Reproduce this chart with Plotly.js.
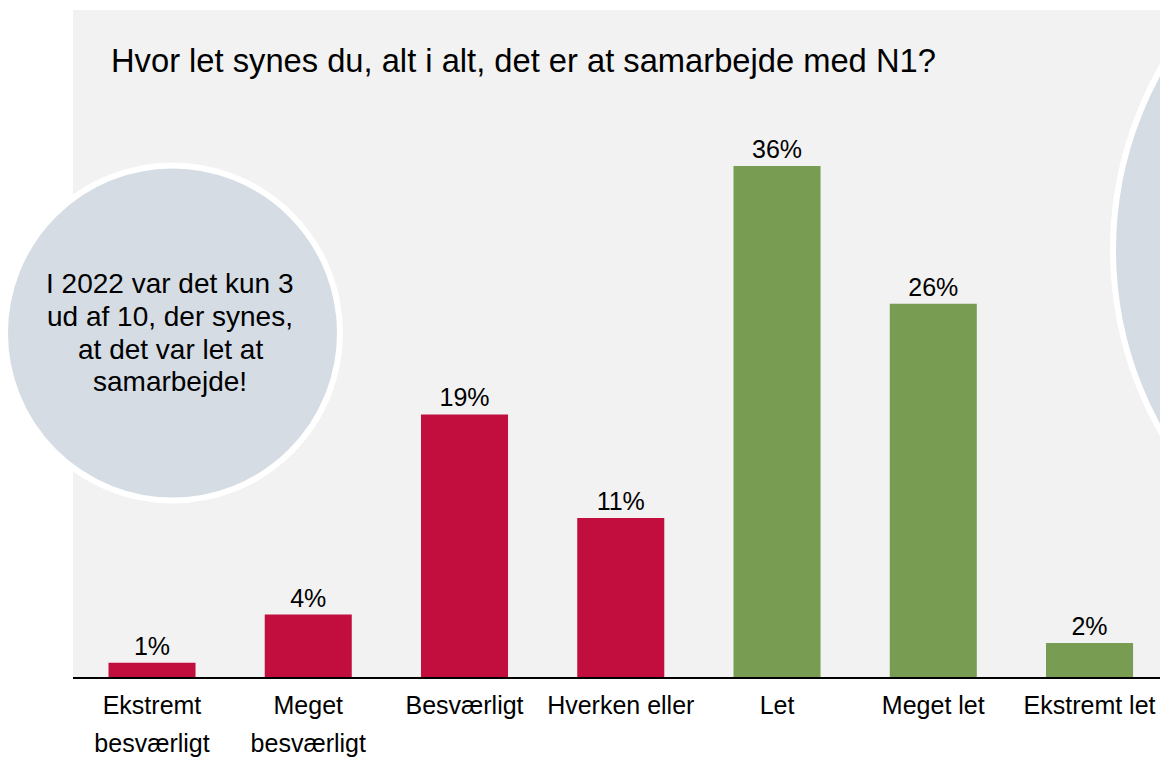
<!DOCTYPE html>
<html>
<head>
<meta charset="utf-8">
<script src="https://cdn.plot.ly/plotly-3.0.1.min.js"></script>
<style>
  html, body { margin: 0; padding: 0; background: #ffffff; }
  #chart { width: 1160px; height: 757px; }
</style>
</head>
<body>
<div id="chart"></div>
<script>
// ---- Data ----
const categories = ["Ekstremt besværligt", "Meget besværligt", "Besværligt", "Hverken eller", "Let", "Meget let", "Ekstremt let"];
const tickLabels = ["Ekstremt<br>besværligt", "Meget<br>besværligt", "Besværligt", "Hverken eller", "Let", "Meget let", "Ekstremt let"];
const values = [1.0, 4.4, 18.5, 11.2, 36.0, 26.3, 2.4];
const valueLabels = ["1%", "4%", "19%", "11%", "36%", "26%", "2%"];
const barColors = ["#C20E3E", "#C20E3E", "#C20E3E", "#C20E3E", "#779C52", "#779C52", "#779C52"];
const chartTitle = "Hvor let synes du, alt i alt, det er at samarbejde med N1?";
const calloutLines = ["I 2022 var det kun 3", "ud af 10, der synes,", "at det var let at", "samarbejde!"];

// ---- Layout helpers ----
const W = 1160, H = 757;
const M = { l: 73, r: 0, t: 10, b: 80 };
const PW = W - M.l - M.r, PH = H - M.t - M.b;
const px = x => (x - M.l) / PW;
const py = y => (H - M.b - y) / PH;

const FONT = "Liberation Sans, Arial, sans-serif";

const ticktext = tickLabels.map(t =>
  t.split("<br>").map(s => "<span style='font-size:25px'>" + s + "</span>").join("<br>")
);

const trace = {
  type: "bar",
  x: categories,
  y: values,
  text: valueLabels,
  texttemplate: "%{text}",
  textposition: "outside",
  constraintext: "none",
  cliponaxis: false,
  textfont: { family: FONT, size: 25, color: "#000000" },
  marker: { color: barColors, line: { width: 0 } },
  hoverinfo: "skip"
};

const shapes = [
  { type: "circle", xref: "paper", yref: "paper",
    x0: px(5), x1: px(340), y0: py(500.5), y1: py(165.5),
    fillcolor: "#D5DCE4", line: { color: "#ffffff", width: 6 }, layer: "above" },
  { type: "circle", xref: "paper", yref: "paper",
    x0: px(1113), x1: px(1849), y0: py(618), y1: py(-118),
    fillcolor: "#D5DCE4", line: { color: "#ffffff", width: 6 }, layer: "above" }
];

const lineY = [283, 316, 349, 382];
const annotations = calloutLines.map((t, i) => ({
  xref: "paper", yref: "paper",
  x: px(170), y: py(lineY[i]),
  xanchor: "center", yanchor: "middle",
  text: t, showarrow: false,
  font: { family: FONT, size: 28, color: "#000000" }
}));

const layout = {
  width: W, height: H,
  margin: M,
  paper_bgcolor: "#ffffff",
  plot_bgcolor: "#F2F2F2",
  showlegend: false,
  bargap: 0.443,
  title: {
    text: chartTitle,
    font: { family: FONT, size: 32.7, color: "#000000" },
    xref: "container", yref: "container",
    x: 111 / W, xanchor: "left",
    y: 1 - 61 / H, yanchor: "middle"
  },
  xaxis: {
    type: "category",
    range: [-0.5056, 6.451],
    tickmode: "array",
    tickvals: categories,
    ticktext: ticktext,
    tickfont: { family: FONT, size: 29.2, color: "#000000" },
    ticks: "",
    showline: true, linecolor: "#000000", linewidth: 2,
    showgrid: false, zeroline: false,
    fixedrange: true
  },
  yaxis: {
    range: [0, 47],
    visible: false,
    showgrid: false, zeroline: false, fixedrange: true
  },
  shapes: shapes,
  annotations: annotations
};

Plotly.newPlot("chart", [trace], layout, { displayModeBar: false, staticPlot: true });
</script>
</body>
</html>
